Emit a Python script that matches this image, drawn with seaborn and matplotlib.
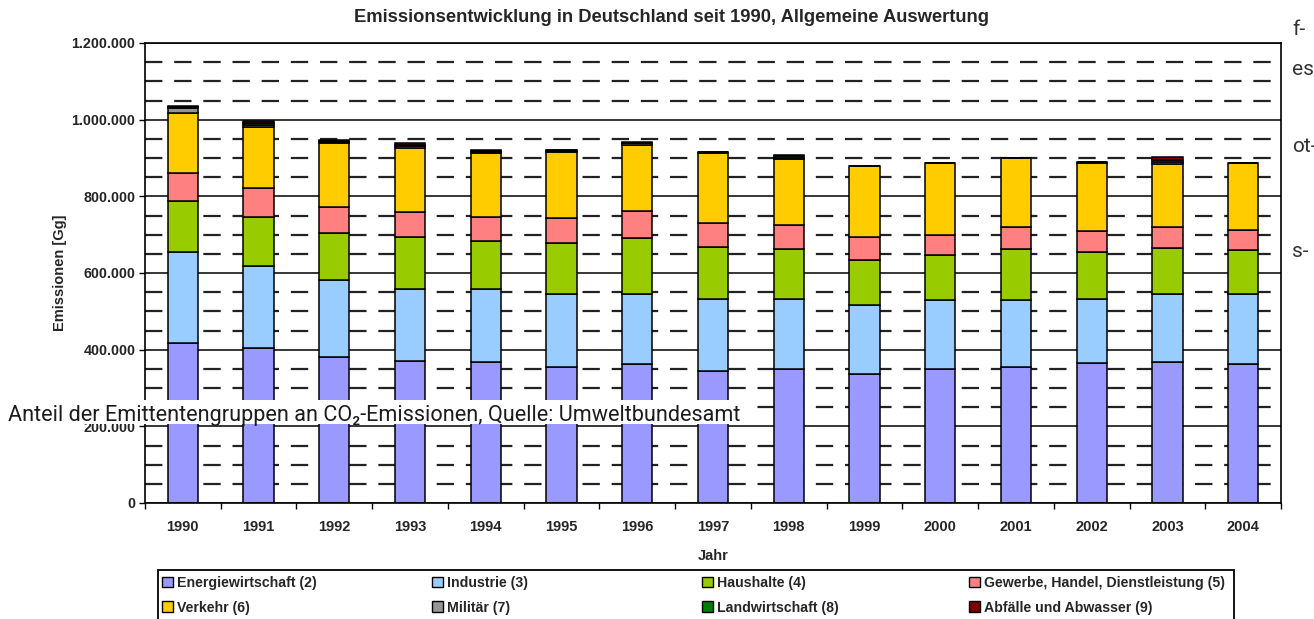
import matplotlib
matplotlib.use("Agg")
import matplotlib.pyplot as plt
from matplotlib.patches import Patch, Rectangle
from matplotlib.ticker import FixedLocator, FuncFormatter
import pandas as pd
import seaborn as sns

# CO2 emissions by source group, Germany (Gg)
years = list(range(1990, 2005))
energie = [418000, 405000, 381000, 370000, 369000, 356000, 363000, 344000,
           349000, 337000, 349000, 356000, 365000, 369000, 362000]
industrie = [238000, 213000, 201000, 187000, 188000, 189000, 182000, 187000,
             182000, 180000, 181000, 174000, 167000, 176000, 182000]
haushalte = [131000, 129000, 123000, 138000, 126000, 133000, 146000, 138000,
             131000, 117000, 118000, 132000, 122000, 121000, 117000]
gewerbe = [73000, 76000, 66000, 64000, 64000, 65000, 71000, 62000,
           63000, 59000, 51000, 59000, 55000, 55000, 52000]
verkehr = [158000, 159000, 167000, 168000, 165000, 172000, 173000, 183000,
           172000, 186000, 187000, 178000, 179000, 163000, 173000]
militaer = [13000, 5000, 3000, 4000, 3000, 3000, 3000, 1000,
            4000, 500, 500, 500, 500, 5000, 500]
landwirtschaft = [3000, 5000, 3000, 4000, 3000, 2000, 2000, 500,
                  4000, 300, 300, 300, 300, 7000, 300]
abfaelle = [2000, 5000, 3000, 3000, 3000, 2000, 2000, 500,
            3000, 200, 200, 200, 200, 6000, 200]

sources = ["Energiewirtschaft (2)", "Industrie (3)", "Haushalte (4)",
           "Gewerbe, Handel, Dienstleistung (5)", "Verkehr (6)", "Militär (7)",
           "Landwirtschaft (8)", "Abfälle und Abwasser (9)"]
series = [energie, industrie, haushalte, gewerbe, verkehr, militaer,
          landwirtschaft, abfaelle]
colors = ["#9999FF", "#99CCFF", "#99CC00", "#FF8080", "#FFCC00", "#969696",
          "#008000", "#800000"]
palette = dict(zip(sources, colors))

title = "Emissionsentwicklung in Deutschland seit 1990, Allgemeine Auswertung"
caption = "Anteil der Emittentengruppen an CO\u2082-Emissionen, Quelle: Umweltbundesamt"
side_words = ["f-", "es", "ot-", "s-"]

rows = []
for name, vals in zip(sources, series):
    for y, v in zip(years, vals):
        rows.append({"Jahr": y, "Quelle": name, "Emission": v})
df = pd.DataFrame(rows)

sns.set_style("white")
plt.rcParams["font.family"] = ["Liberation Sans", "DejaVu Sans"]
plt.rcParams["lines.scale_dashes"] = False

W, H = 1314, 619
fig = plt.figure(figsize=(W / 100, H / 100), dpi=100)
ax = fig.add_axes([145 / W, 116 / H, 1136 / W, 460 / H])

# seaborn stacks the last hue level at the bottom, so feed the order reversed
sns.histplot(data=df, x="Jahr", weights="Emission", hue="Quelle",
             hue_order=sources[::-1], multiple="stack", discrete=True,
             shrink=0.4, palette=palette, alpha=1, edgecolor="black",
             linewidth=1.1, legend=False, ax=ax)

ax.set_xlim(years[0] - 0.5, years[-1] + 0.5)
ax.set_ylim(0, 1200000)

# y axis: solid lines every 200.000, dashed every 50.000
major_y = list(range(0, 1200001, 200000))
minor_y = [v for v in range(0, 1200001, 50000) if v % 200000]
ax.yaxis.set_major_locator(FixedLocator(major_y))
ax.yaxis.set_minor_locator(FixedLocator(minor_y))
ax.yaxis.set_major_formatter(FuncFormatter(lambda v, p: f"{int(v):,}".replace(",", ".")))
ax.set_axisbelow(True)
ax.grid(axis="y", which="major", color="black", linewidth=1.1, linestyle="-")
ax.grid(axis="y", which="minor", color="#222222", linewidth=1.6,
        linestyle=(0, (12.5, 8.5)))

# x axis: labels under bars, tick marks between them
ax.xaxis.set_major_locator(FixedLocator(years))
ax.xaxis.set_minor_locator(FixedLocator([y - 0.5 for y in years] + [years[-1] + 0.5]))
ax.tick_params(axis="x", which="major", length=0, pad=12, labelsize=10.5)
ax.tick_params(axis="x", which="minor", length=4, width=1, color="black",
               direction="out", bottom=True)
ax.tick_params(axis="y", which="major", length=4, width=1, color="black",
               direction="out", left=True, pad=3, labelsize=10.3)
ax.tick_params(axis="y", which="minor", length=0)
for lab in ax.get_xticklabels() + ax.get_yticklabels():
    lab.set_fontweight("bold")

for sp in ax.spines.values():
    sp.set_visible(True)
    sp.set_color("black")
    sp.set_linewidth(1.2)

ax.set_xlabel("Jahr", fontsize=10.5, fontweight="bold", labelpad=11)
ax.set_ylabel("Emissionen [Gg]", fontsize=10.5, fontweight="bold", labelpad=3)

fig.text(672 / W, 1 - 18 / H, title, ha="center", va="center",
         fontsize=13.2, fontweight="bold")

# legend: framed box with four evenly spaced columns of two entries
fig.patches.append(Rectangle((158 / W, -4 / H), 1076 / W, (H - 570 + 4) / H,
                             transform=fig.transFigure, facecolor="white",
                             edgecolor="black", linewidth=1.3, zorder=2))
handles = [Patch(facecolor=c, edgecolor="black", linewidth=1.0) for c in colors]
col_x = [162, 432, 702, 969]
for k, x0 in enumerate(col_x):
    idx = [k, k + 4]
    lg = fig.legend([handles[i] for i in idx], [sources[i] for i in idx],
                    loc="upper left", bbox_to_anchor=(x0 / W, (H - 576) / H),
                    frameon=False, handlelength=0.75, handleheight=0.75,
                    handletextpad=0.3, borderaxespad=0, borderpad=0,
                    labelspacing=0.75, prop={"size": 10.2, "weight": "bold"})
    lg.set_zorder(3)

# caption strip laid over the chart
fig.patches.append(Rectangle((4 / W, (H - 424) / H), 742 / W, 24 / H,
                             transform=fig.transFigure, facecolor="white",
                             edgecolor="none", zorder=10))
fig.text(8 / W, (H - 421.5) / H, caption, ha="left", va="baseline",
         fontsize=15.6, color="#1c1c1c", family=["Roboto", "DejaVu Sans"],
         zorder=11)

# neighbouring text fragments at the right edge
for word, base in zip(side_words, [35, 75, 152, 257]):
    fig.text(1292 / W, (H - base) / H, word, ha="left", va="baseline",
             fontsize=15, color="#333333", family=["Roboto", "DejaVu Sans"])

fig.savefig("out.png", dpi=100)
